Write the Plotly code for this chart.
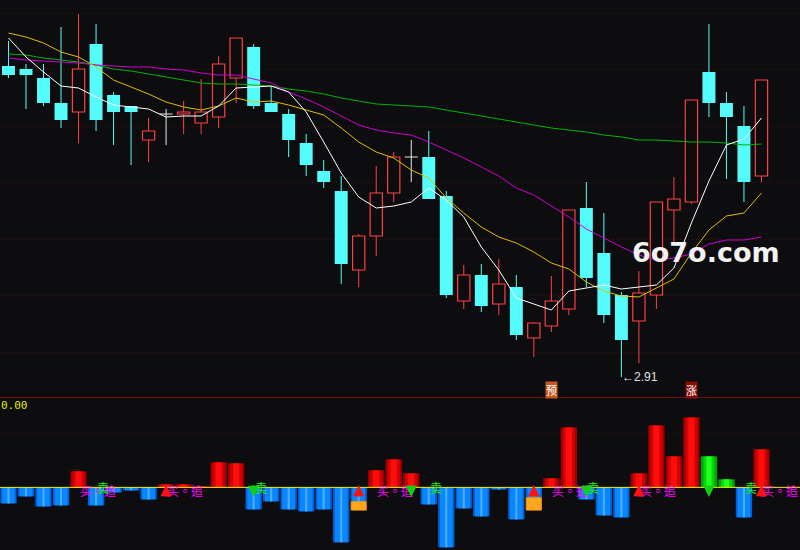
import plotly.graph_objects as go

# ---------------- data ----------------
idx = list(range(44))

open_ = [3.532, 3.526, 3.508, 3.458, 3.440, 3.576, 3.474, 3.452, 3.384, 3.436,
         3.436, 3.418, 3.430, 3.508, 3.570, 3.458, 3.436, 3.378, 3.322, 3.282,
         3.124, 3.192, 3.278, 3.350, 3.350, 3.272, 3.062, 3.114, 3.056, 3.090,
         2.988, 3.012, 3.046, 3.248, 3.158, 3.074, 3.022, 3.074, 3.244, 3.260,
         3.520, 3.458, 3.412, 3.312]
close_ = [3.514, 3.514, 3.458, 3.424, 3.526, 3.424, 3.440, 3.440, 3.402, 3.436,
          3.440, 3.440, 3.536, 3.588, 3.452, 3.440, 3.384, 3.334, 3.300, 3.136,
          3.192, 3.278, 3.350, 3.350, 3.266, 3.074, 3.114, 3.052, 3.096, 2.994,
          3.018, 3.062, 3.244, 3.108, 3.034, 2.984, 3.078, 3.260, 3.266, 3.464,
          3.458, 3.430, 3.300, 3.504]
high_ = [3.582, 3.536, 3.536, 3.610, 3.636, 3.616, 3.480, 3.452, 3.428, 3.446,
         3.462, 3.506, 3.552, 3.588, 3.576, 3.492, 3.446, 3.396, 3.344, 3.312,
         3.196, 3.332, 3.360, 3.384, 3.402, 3.282, 3.134, 3.136, 3.146, 3.114,
         3.020, 3.112, 3.244, 3.300, 3.238, 3.080, 3.122, 3.260, 3.310, 3.464,
         3.616, 3.480, 3.452, 3.504]
low_ = [3.508, 3.446, 3.452, 3.408, 3.378, 3.402, 3.374, 3.334, 3.340, 3.374,
        3.396, 3.396, 3.408, 3.458, 3.446, 3.440, 3.350, 3.312, 3.288, 3.096,
        3.090, 3.152, 3.260, 3.300, 3.266, 3.068, 3.046, 3.040, 3.034, 2.984,
        2.950, 3.000, 3.034, 3.090, 3.018, 2.910, 2.938, 3.046, 3.180, 3.256,
        3.430, 3.306, 3.260, 3.300]

ma5 = [3.588, 3.550, 3.520, 3.492, 3.488, 3.470, 3.454, 3.450, 3.446, 3.430,
       3.432, 3.432, 3.452, 3.488, 3.490, 3.492, 3.480, 3.440, 3.380, 3.318,
       3.270, 3.248, 3.252, 3.260, 3.288, 3.264, 3.230, 3.170, 3.124, 3.068,
       3.056, 3.044, 3.082, 3.088, 3.094, 3.086, 3.090, 3.094, 3.128, 3.218,
       3.302, 3.374, 3.386, 3.428]
ma10 = [3.598, 3.590, 3.578, 3.560, 3.550, 3.530, 3.504, 3.490, 3.476, 3.460,
        3.450, 3.444, 3.452, 3.468, 3.460, 3.462, 3.454, 3.444, 3.434, 3.408,
        3.380, 3.360, 3.348, 3.324, 3.308, 3.268, 3.238, 3.210, 3.190, 3.178,
        3.160, 3.138, 3.126, 3.100, 3.082, 3.072, 3.070, 3.088, 3.106, 3.158,
        3.204, 3.232, 3.238, 3.278]
ma20 = [3.548, 3.544, 3.542, 3.540, 3.538, 3.534, 3.532, 3.530, 3.530, 3.526,
        3.524, 3.518, 3.514, 3.514, 3.506, 3.498, 3.480, 3.466, 3.450, 3.432,
        3.414, 3.404, 3.398, 3.394, 3.380, 3.364, 3.348, 3.330, 3.312, 3.288,
        3.274, 3.252, 3.230, 3.206, 3.188, 3.170, 3.154, 3.144, 3.148, 3.156,
        3.176, 3.184, 3.184, 3.190]
ma60 = [3.556, 3.554, 3.548, 3.544, 3.540, 3.534, 3.526, 3.522, 3.516, 3.510,
        3.504, 3.498, 3.496, 3.496, 3.494, 3.492, 3.486, 3.482, 3.476, 3.468,
        3.462, 3.456, 3.454, 3.452, 3.450, 3.444, 3.438, 3.432, 3.426, 3.420,
        3.414, 3.408, 3.404, 3.400, 3.394, 3.390, 3.384, 3.384, 3.382, 3.380,
        3.380, 3.378, 3.374, 3.376]

osc = [-1.6, -0.9, -1.9, -1.8, 1.6, -1.8, -0.5, -0.3, -1.2, 0.3,
       0.3, 0.1, 2.5, 2.4, -2.2, -1.4, -2.2, -2.4, -2.2, -5.5,
       -1.4, 1.7, 2.8, 1.4, -1.7, -6.0, -2.1, -2.9, -0.2, -3.2,
       -1.0, 0.9, 6.0, -1.2, -2.8, -3.0, 1.4, 6.2, 3.1, 7.0,
       3.1, 0.8, -3.0, 3.8]
osc_extra = [0, 0, 0, 0, 0, 0, 0, 0, 0, 0,
             0, 0, 0, 0, 0, 0, 0, 0, 0, 0,
             -0.9, 0, 0, 0, 0, 0, 0, 0, 0, 0,
             -1.3, 0, 0, 0, 0, 0, 0, 0, 0, 0,
             0, 0, 0, 0]

buy_arrow_idx = [9, 20, 30, 36, 43]
sell_arrow_idx = [14, 23, 33, 40]
buy_text_idx = [4, 9, 21, 31, 36, 43]
sell_text_idx = [5, 14, 24, 33, 42]
yu_idx = 31
zhang_idx = 39
buy_text = "买。追"
sell_text = "卖"

# ---------------- styles ----------------
BG = "#0D0D10"
UP = "#FF4040"
DOWN = "#54FCFC"
GRID = "#4A1010"
AXLINE = "#701010"

fig = go.Figure()

# ---- candle bodies ----
dn_x, dn_b, dn_h = [], [], []
up_x, up_b, up_h = [], [], []
for i in idx:
    o, c = open_[i], close_[i]
    if c < o:
        dn_x.append(i); dn_b.append(c); dn_h.append(o - c)
    elif c > o:
        up_x.append(i); up_b.append(o); up_h.append(c - o)

fig.add_trace(go.Bar(x=dn_x, y=dn_h, base=dn_b, width=0.74,
                     marker=dict(color=DOWN, line=dict(width=0)),
                     hoverinfo="skip", showlegend=False))
fig.add_trace(go.Bar(x=up_x, y=up_h, base=up_b, width=0.70,
                     marker=dict(color=BG, line=dict(color=UP, width=1.2)),
                     hoverinfo="skip", showlegend=False))

# ---- wicks ----
wick = {"up": ([], []), "dn": ([], []), "eq": ([], [])}
for i in idx:
    o, c, h, l = open_[i], close_[i], high_[i], low_[i]
    key = "up" if c > o else ("dn" if c < o else "eq")
    wx, wy = wick[key]
    top, bot = max(o, c), min(o, c)
    if h > top:
        wx += [i, i, None]; wy += [h, top, None]
    if bot > l:
        wx += [i, i, None]; wy += [bot, l, None]
    if key == "eq":
        wx += [i - 0.37, i + 0.37, None]; wy += [o, o, None]
for key, col in (("up", UP), ("dn", DOWN), ("eq", "#E8E8E8")):
    wx, wy = wick[key]
    fig.add_trace(go.Scatter(x=wx, y=wy, mode="lines",
                             line=dict(color=col, width=1),
                             hoverinfo="skip", showlegend=False))

# ---- moving averages ----
for vals, col in ((ma60, "#00B400"), (ma20, "#D000D0"),
                  (ma10, "#E0BE00"), (ma5, "#FFFFFF")):
    fig.add_trace(go.Scatter(x=idx, y=vals, mode="lines",
                             line=dict(color=col, width=1),
                             hoverinfo="skip", showlegend=False))

# ---- oscillator bars (sub panel) ----
red_x, red_y, grn_x, grn_y, blu_x, blu_y = [], [], [], [], [], []
org_x, org_y, org_b = [], [], []
for i in idx:
    v = osc[i]
    if v > 0:
        if close_[i] < open_[i]:
            grn_x.append(i); grn_y.append(v)
        else:
            red_x.append(i); red_y.append(v)
    elif v < 0:
        blu_x.append(i); blu_y.append(v)
    if osc_extra[i] != 0:
        org_x.append(i); org_y.append(osc_extra[i]); org_b.append(min(v, 0))

def shaded(xs, ys, layers, base=None):
    for w, col in layers:
        fig.add_trace(go.Bar(x=xs, y=ys, base=base, width=w,
                             marker=dict(color=col, line=dict(width=0)),
                             xaxis="x2", yaxis="y2",
                             hoverinfo="skip", showlegend=False))

shaded(red_x, red_y, [(0.93, "#A00000"), (0.68, "#D20000"), (0.36, "#FF0C0C")])
shaded(grn_x, grn_y, [(0.93, "#00A800"), (0.62, "#00DA00"), (0.3, "#22FF22")])
shaded(blu_x, blu_y, [(0.93, "#0062D8"), (0.72, "#0A86FF"), (0.12, "#4AAEFF")])
shaded(org_x, org_y, [(0.93, "#F08C00"), (0.8, "#FFA61E")], base=org_b)

# ---------------- layout ----------------
split = 153 / 550
fig.update_layout(
    width=800, height=550,
    margin=dict(l=0, r=0, t=0, b=0),
    paper_bgcolor=BG, plot_bgcolor=BG,
    barmode="overlay", showlegend=False,
    xaxis=dict(domain=[0, 1], range=[-0.485, 45.2], anchor="y",
               showticklabels=False, showgrid=False, zeroline=False,
               showline=True, linecolor=AXLINE, linewidth=1, ticks=""),
    yaxis=dict(domain=[split, 1], range=[2.87, 3.664], anchor="x",
               tick0=2.96, dtick=0.113, showgrid=True, gridcolor=GRID,
               griddash="1px,3px", gridwidth=1,
               showticklabels=False, zeroline=False, ticks=""),
    xaxis2=dict(domain=[0, 1], range=[-0.485, 45.2], anchor="y2",
                showticklabels=False, showgrid=False, zeroline=False,
                showline=True, linecolor=AXLINE, linewidth=1, ticks=""),
    yaxis2=dict(domain=[0, split], range=[-6.27, 9.05], anchor="x2",
                tickvals=[5.43], showgrid=True, gridcolor=GRID,
                griddash="1px,3px", gridwidth=1,
                showticklabels=False, zeroline=False, ticks=""),
)

# zero line of sub panel
fig.add_shape(type="line", xref="paper", yref="y2", x0=0, x1=1, y0=0, y1=0,
              line=dict(color="#F0F000", width=1), layer="above")

ann = []
# lowest price label
imin = low_.index(min(low_))
ann.append(dict(x=imin, y=low_[imin], xref="x", yref="y", text="←" + f"{low_[imin]:.2f}",
                showarrow=False, xanchor="left", yanchor="middle", xshift=-1,
                font=dict(family="Liberation Sans", size=12, color="#E0E0E0")))
# markers 预 / 涨
ann.append(dict(x=yu_idx, y=(550 - 389.5) / 550, xref="x", yref="paper", text="预",
                showarrow=False, bgcolor="#C8561E", borderpad=0,
                xanchor="center", yanchor="middle",
                font=dict(family="Noto Sans CJK SC", size=11, color="#FFFFFF")))
ann.append(dict(x=zhang_idx, y=(550 - 389.5) / 550, xref="x", yref="paper", text="涨",
                showarrow=False, bgcolor="#8A0A0A", borderpad=0,
                xanchor="center", yanchor="middle",
                font=dict(family="Noto Sans CJK SC", size=11, color="#FFFFFF")))
# watermark
ann.append(dict(x=705.5 / 800, y=(550 - 253) / 550, xref="paper", yref="paper",
                text="<b>6o7o.com</b>", showarrow=False,
                xanchor="center", yanchor="middle",
                font=dict(family="DejaVu Sans", size=27, color="#F2F2F2")))
# sub panel value label
ann.append(dict(x=0, y=(550 - 405.5) / 550, xref="paper", yref="paper", text="0.00",
                showarrow=False, xanchor="left", yanchor="middle", xshift=-1,
                font=dict(family="DejaVu Sans Mono", size=11, color="#E6E600")))
# buy / sell texts
for i in buy_text_idx:
    ann.append(dict(x=i, y=-0.32, xref="x2", yref="y2", text=buy_text,
                    showarrow=False, xanchor="left", yanchor="middle", xshift=-1,
                    font=dict(family="Noto Sans CJK TC", size=12, color="#FF00FF")))
for i in sell_text_idx:
    ann.append(dict(x=i, y=0.03, xref="x2", yref="y2", text=sell_text,
                    showarrow=False, xanchor="left", yanchor="middle", xshift=-1,
                    font=dict(family="Noto Sans CJK SC", size=12, color="#22EE22")))
# arrows
for i in buy_arrow_idx:
    ann.append(dict(x=i, y=0.23, xref="x2", yref="y2", text="", showarrow=True,
                    ax=0, ay=13, arrowhead=2, arrowsize=0.9, arrowwidth=2.5,
                    arrowcolor="#FF1010", standoff=0, startstandoff=0))
for i in sell_arrow_idx:
    ann.append(dict(x=i, y=-0.97, xref="x2", yref="y2", text="", showarrow=True,
                    ax=0, ay=-13, arrowhead=2, arrowsize=0.9, arrowwidth=2.5,
                    arrowcolor="#10D010", standoff=0, startstandoff=0))
fig.update_layout(annotations=ann)

fig.write_html("out.html",
               config={"displayModeBar": False, "staticPlot": True},
               post_script="document.body.style.margin='0px';"
                           "document.body.style.overflow='hidden';"
                           "document.body.style.background='" + BG + "';")
